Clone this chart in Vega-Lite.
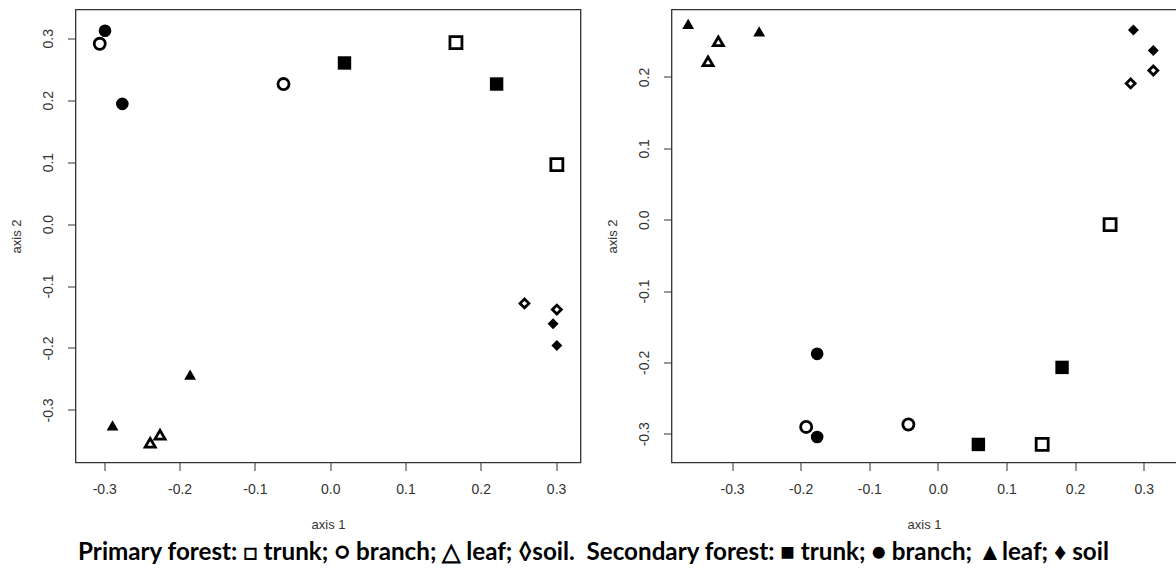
{
  "$schema": "https://vega.github.io/schema/vega-lite/v6.json",
  "padding": {"left": 9.5, "top": 8.5, "right": 0, "bottom": 0},
  "background": "white",
  "datasets": {
    "pts": [
      {"panel": "A", "forest": "Primary", "part": "branch", "x": -0.306, "y": 0.291},
      {"panel": "A", "forest": "Secondary", "part": "branch", "x": -0.299, "y": 0.312},
      {"panel": "A", "forest": "Secondary", "part": "branch", "x": -0.276, "y": 0.194},
      {"panel": "A", "forest": "Primary", "part": "branch", "x": -0.062, "y": 0.226},
      {"panel": "A", "forest": "Secondary", "part": "trunk", "x": 0.019, "y": 0.260},
      {"panel": "A", "forest": "Primary", "part": "trunk", "x": 0.167, "y": 0.293},
      {"panel": "A", "forest": "Secondary", "part": "trunk", "x": 0.221, "y": 0.226},
      {"panel": "A", "forest": "Primary", "part": "trunk", "x": 0.301, "y": 0.096},
      {"panel": "A", "forest": "Primary", "part": "soil", "x": 0.258, "y": -0.128},
      {"panel": "A", "forest": "Primary", "part": "soil", "x": 0.301, "y": -0.138},
      {"panel": "A", "forest": "Secondary", "part": "soil", "x": 0.296, "y": -0.161},
      {"panel": "A", "forest": "Secondary", "part": "soil", "x": 0.301, "y": -0.196},
      {"panel": "A", "forest": "Secondary", "part": "leaf", "x": -0.289, "y": -0.325},
      {"panel": "A", "forest": "Primary", "part": "leaf", "x": -0.239, "y": -0.353},
      {"panel": "A", "forest": "Primary", "part": "leaf", "x": -0.226, "y": -0.340},
      {"panel": "A", "forest": "Secondary", "part": "leaf", "x": -0.186, "y": -0.243},
      {"panel": "B", "forest": "Secondary", "part": "leaf", "x": -0.364, "y": 0.2745},
      {"panel": "B", "forest": "Primary", "part": "leaf", "x": -0.320, "y": 0.250},
      {"panel": "B", "forest": "Primary", "part": "leaf", "x": -0.335, "y": 0.222},
      {"panel": "B", "forest": "Secondary", "part": "leaf", "x": -0.2605, "y": 0.264},
      {"panel": "B", "forest": "Secondary", "part": "soil", "x": 0.285, "y": 0.266},
      {"panel": "B", "forest": "Secondary", "part": "soil", "x": 0.314, "y": 0.237},
      {"panel": "B", "forest": "Primary", "part": "soil", "x": 0.314, "y": 0.209},
      {"panel": "B", "forest": "Primary", "part": "soil", "x": 0.281, "y": 0.191},
      {"panel": "B", "forest": "Primary", "part": "trunk", "x": 0.251, "y": -0.007},
      {"panel": "B", "forest": "Secondary", "part": "trunk", "x": 0.181, "y": -0.207},
      {"panel": "B", "forest": "Secondary", "part": "trunk", "x": 0.059, "y": -0.315},
      {"panel": "B", "forest": "Primary", "part": "trunk", "x": 0.152, "y": -0.315},
      {"panel": "B", "forest": "Secondary", "part": "branch", "x": -0.176, "y": -0.188},
      {"panel": "B", "forest": "Primary", "part": "branch", "x": -0.192, "y": -0.2905},
      {"panel": "B", "forest": "Secondary", "part": "branch", "x": -0.176, "y": -0.3045},
      {"panel": "B", "forest": "Primary", "part": "branch", "x": -0.043, "y": -0.287}
    ]
  },
  "title": {
    "text": "Primary forest: □ trunk; ○ branch; △ leaf; ◊soil.\u00a0 Secondary forest: ■ trunk; ● branch; ▲leaf; ♦ soil",
    "orient": "bottom",
    "anchor": "middle",
    "font": "Lato",
    "fontSize": 24.2,
    "fontWeight": "bold",
    "color": "black",
    "offset": 9
  },
  "spacing": 91,
  "bounds": "flush",
  "hconcat": [
    {
      "width": 505,
      "height": 453,
      "data": {"name": "pts"},
      "transform": [{"filter": "datum.panel === 'A'"}],
      "layer": [
        {
          "transform": [{"filter": "datum.forest === 'Secondary'"}],
          "mark": {"type": "point", "filled": true, "color": "black", "opacity": 1},
          "encoding": {
            "x": {"field": "x", "type": "quantitative", "title": "axis 1",
                  "scale": {"domain": [-0.3382, 0.3324], "nice": false, "zero": false},
                  "axis": {"values": [-0.3, -0.2, -0.1, 0, 0.1, 0.2, 0.3], "format": ".1f"}},
            "y": {"field": "y", "type": "quantitative", "title": "axis 2",
                  "scale": {"domain": [-0.3848, 0.3463], "nice": false, "zero": false},
                  "axis": {"values": [-0.3, -0.2, -0.1, 0, 0.1, 0.2, 0.3], "format": ".1f"}},
            "shape": {"field": "part", "type": "nominal", "legend": null,
                      "scale": {"domain": ["trunk", "branch", "leaf", "soil"], "range": ["square", "circle", "triangle-up", "diamond"]}},
            "size": {"field": "part", "type": "ordinal", "legend": null,
                     "scale": {"domain": ["trunk", "branch", "leaf", "soil"], "range": [180, 120, 190, 200]}}
          }
        },
        {
          "transform": [{"filter": "datum.forest === 'Primary'"}],
          "mark": {"type": "point", "filled": false, "color": "black", "strokeWidth": 2.8, "opacity": 1},
          "encoding": {
            "x": {"field": "x", "type": "quantitative"},
            "y": {"field": "y", "type": "quantitative"},
            "shape": {"field": "part", "type": "nominal", "legend": null,
                      "scale": {"domain": ["trunk", "branch", "leaf", "soil"], "range": ["square", "circle", "triangle-up", "diamond"]}},
            "size": {"field": "part", "type": "ordinal", "legend": null,
                     "scale": {"domain": ["trunk", "branch", "leaf", "soil"], "range": [144, 80, 100, 150]}}
          }
        }
      ],
      "resolve": {"scale": {"size": "independent"}}
    },
    {
      "width": 505,
      "height": 453,
      "data": {"name": "pts"},
      "transform": [{"filter": "datum.panel === 'B'"}],
      "layer": [
        {
          "transform": [{"filter": "datum.forest === 'Secondary'"}],
          "mark": {"type": "point", "filled": true, "color": "black", "opacity": 1},
          "encoding": {
            "x": {"field": "x", "type": "quantitative", "title": "axis 1",
                  "scale": {"domain": [-0.3883, 0.3478], "nice": false, "zero": false},
                  "axis": {"values": [-0.3, -0.2, -0.1, 0, 0.1, 0.2, 0.3], "format": ".1f"}},
            "y": {"field": "y", "type": "quantitative", "title": "axis 2",
                  "scale": {"domain": [-0.3403, 0.2946], "nice": false, "zero": false},
                  "axis": {"values": [-0.3, -0.2, -0.1, 0, 0.1, 0.2], "format": ".1f"}},
            "shape": {"field": "part", "type": "nominal", "legend": null,
                      "scale": {"domain": ["trunk", "branch", "leaf", "soil"], "range": ["square", "circle", "triangle-up", "diamond"]}},
            "size": {"field": "part", "type": "ordinal", "legend": null,
                     "scale": {"domain": ["trunk", "branch", "leaf", "soil"], "range": [180, 120, 190, 200]}}
          }
        },
        {
          "transform": [{"filter": "datum.forest === 'Primary'"}],
          "mark": {"type": "point", "filled": false, "color": "black", "strokeWidth": 2.8, "opacity": 1},
          "encoding": {
            "x": {"field": "x", "type": "quantitative"},
            "y": {"field": "y", "type": "quantitative"},
            "shape": {"field": "part", "type": "nominal", "legend": null,
                      "scale": {"domain": ["trunk", "branch", "leaf", "soil"], "range": ["square", "circle", "triangle-up", "diamond"]}},
            "size": {"field": "part", "type": "ordinal", "legend": null,
                     "scale": {"domain": ["trunk", "branch", "leaf", "soil"], "range": [144, 80, 100, 150]}}
          }
        }
      ],
      "resolve": {"scale": {"size": "independent"}}
    }
  ],
  "config": {
    "locale": {"number": {"decimal": ".", "thousands": ",", "grouping": [3], "currency": ["$", ""], "minus": "-"}},
    "view": {"stroke": "#333333", "strokeWidth": 1.3},
    "axis": {
      "grid": false,
      "domain": false,
      "tickColor": "#333333",
      "tickSize": 8,
      "tickWidth": 1,
      "labelFont": "Liberation Sans",
      "labelFontSize": 14,
      "labelColor": "#333333",
      "labelOverlap": false,
      "labelFlush": false,
      "titleFont": "Liberation Sans",
      "titleFontSize": 13,
      "titleFontWeight": "normal",
      "titleColor": "#333333"
    },
    "axisX": {"labelBaseline": "middle", "labelPadding": 19, "titleBaseline": "middle", "titleY": 62},
    "axisY": {"labelAngle": -90, "labelAlign": "center", "labelBaseline": "middle", "labelPadding": 19, "titleX": -59, "titleBaseline": "middle", "titleAngle": -90}
  }
}
